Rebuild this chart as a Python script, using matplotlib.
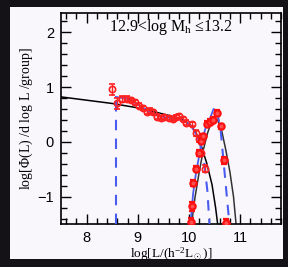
import numpy as np
import matplotlib.pyplot as plt
from matplotlib.patches import Rectangle
from matplotlib.ticker import MultipleLocator

# satellite data points (open circles)
sat_x = [8.49, 8.60, 8.70, 8.78, 8.86, 8.94, 9.03, 9.10, 9.17, 9.23, 9.29, 9.38, 9.45, 9.52, 9.60, 9.68, 9.75, 9.81, 9.88, 9.95, 10.05, 10.14, 10.20, 10.24, 10.31]
sat_y = [0.96, 0.70, 0.78, 0.79, 0.76, 0.72, 0.66, 0.62, 0.55, 0.57, 0.55, 0.46, 0.44, 0.45, 0.43, 0.42, 0.45, 0.47, 0.42, 0.35, 0.32, 0.16, 0.05, -0.20, -0.49]
sat_err = [0.10, 0.10, 0.05, 0.05, 0.04, 0.04, 0.04, 0.04, 0.04, 0.04, 0.04, 0.04, 0.04, 0.04, 0.04, 0.04, 0.04, 0.04, 0.04, 0.04, 0.04, 0.05, 0.05, 0.06, 0.06]

# central data points
cen_x = [10.03, 10.05, 10.08, 10.14, 10.20, 10.24, 10.28, 10.36, 10.42, 10.47, 10.55, 10.63, 10.68, 10.73]
cen_y = [-1.47, -1.18, -0.75, -0.49, -0.20, 0.02, 0.10, 0.33, 0.36, 0.40, 0.53, 0.28, -0.34, -1.48]
cen_err = [0.08, 0.08, 0.06, 0.05, 0.05, 0.05, 0.05, 0.05, 0.05, 0.05, 0.05, 0.05, 0.06, 0.08]

# fitted curves
fit_sat_x = [7.5, 8.0, 8.5, 9.0, 9.4, 9.7, 9.9, 10.05, 10.15, 10.25, 10.35, 10.45, 10.52, 10.56]
fit_sat_y = [0.82, 0.76, 0.70, 0.62, 0.53, 0.46, 0.39, 0.29, 0.14, -0.10, -0.40, -0.78, -1.20, -1.50]
fit_cen_x = [10.05, 10.12, 10.20, 10.28, 10.36, 10.44, 10.50, 10.56, 10.64, 10.72, 10.80, 10.87, 10.92]
fit_cen_y = [-1.50, -1.00, -0.55, -0.15, 0.15, 0.38, 0.44, 0.40, 0.20, -0.15, -0.55, -1.00, -1.50]

# model (blue) lines
mod_sat_x = [8.57, 8.57, 8.70, 8.80, 9.00, 9.20, 9.40, 9.60, 9.80, 9.95, 10.05, 10.15, 10.22]
mod_sat_y = [-1.50, 0.82, 0.80, 0.79, 0.68, 0.57, 0.47, 0.44, 0.42, 0.36, 0.28, 0.12, -0.05]
mod_sat_dash_x = [10.22, 10.30, 10.36, 10.40]
mod_sat_dash_y = [-0.05, -0.40, -0.90, -1.50]
mod_cen_x = [10.03, 10.08, 10.14, 10.20, 10.26, 10.34, 10.42, 10.48, 10.55]
mod_cen_y = [-1.50, -0.95, -0.55, -0.25, 0.05, 0.30, 0.45, 0.60, 0.55]
mod_cen_dash_x = [10.55, 10.62, 10.68, 10.74, 10.79]
mod_cen_dash_y = [0.55, 0.20, -0.40, -1.00, -1.50]

plt.rcParams['font.family'] = 'Liberation Sans'
plt.rcParams['mathtext.fontset'] = 'custom'
plt.rcParams['mathtext.rm'] = 'Liberation Serif'
plt.rcParams['mathtext.it'] = 'Liberation Serif:italic'
bg = '#f9f7fc'
fig = plt.figure(figsize=(2.88, 2.67), dpi=100, facecolor='#141216')
fig.patches.append(Rectangle((0.035, 0.03), 0.948, 0.944, transform=fig.transFigure,
                             facecolor=bg, edgecolor='none', zorder=-5))
ax = fig.add_axes([0.212, 0.161, 0.764, 0.79])
ax.set_facecolor(bg)

blue = '#4a5cf0'
ax.plot(fit_sat_x, fit_sat_y, color='black', lw=1.1, zorder=2)
ax.plot(fit_cen_x, fit_cen_y, color='#333333', lw=1.1, zorder=2)
ax.plot(mod_sat_x[:2], mod_sat_y[:2], color=blue, lw=1.5, ls=(0, (5, 4)), zorder=3)
ax.plot(mod_sat_x[1:], mod_sat_y[1:], color=blue, lw=1.3, zorder=3)
ax.plot(mod_sat_dash_x, mod_sat_dash_y, color=blue, lw=1.5, ls=(0, (5, 4)), zorder=3)
ax.plot(mod_cen_x, mod_cen_y, color=blue, lw=1.3, zorder=3)
ax.plot(mod_cen_dash_x, mod_cen_dash_y, color=blue, lw=1.5, ls=(0, (5, 4)), zorder=3)

ax.errorbar(sat_x, sat_y, yerr=sat_err, fmt='o', ms=4.5, mfc='none', mec='#ff2020',
            mew=1.2, ecolor='#ff2020', elinewidth=1.0, capsize=2, zorder=4)
ax.errorbar(cen_x, cen_y, yerr=cen_err, fmt='o', ms=4.5, mfc='#ff5050', mec='#ff1010',
            mew=1.6, ecolor='#ff1010', elinewidth=1.0, capsize=2, zorder=4)

ax.set_xlim(7.5, 11.8)
ax.set_ylim(-1.5, 2.35)
ax.xaxis.set_major_locator(MultipleLocator(1))
ax.xaxis.set_minor_locator(MultipleLocator(0.2))
ax.yaxis.set_major_locator(MultipleLocator(1))
ax.yaxis.set_minor_locator(MultipleLocator(0.2))
ax.tick_params(which='both', direction='in', top=True, right=True, width=1.0,
               labelsize=10.5, pad=5)
ax.tick_params(which='major', length=7)
ax.tick_params(which='minor', length=4)
for s in ax.spines.values():
    s.set_linewidth(1.2)

ax.text(0.5, 0.932, '12.9<log M$_{\\rm h}$ \u226413.2', transform=ax.transAxes,
        ha='center', va='center', fontsize=11.5, family='Liberation Serif')
ax.set_xlabel(r'log[L/(h$^{-2}$L$_\odot$)]', fontsize=9.5, family='Liberation Serif', labelpad=0)
ax.set_ylabel(r'log[$\Phi$(L) /d log L /group]', fontsize=10, family='Liberation Serif', labelpad=2)

fig.savefig('out.png', dpi=100, facecolor=fig.get_facecolor())
